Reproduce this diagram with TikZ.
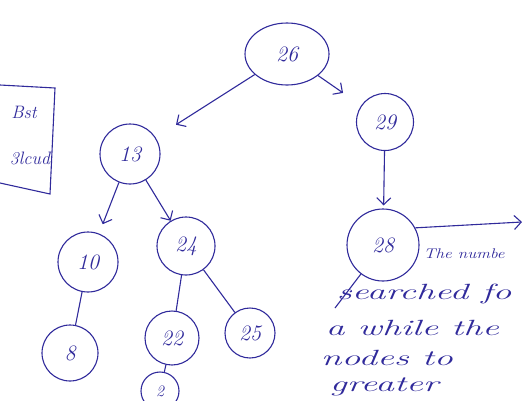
\documentclass[tikz,border=0pt]{standalone}
\usepackage{tikz}
\usetikzlibrary{shapes.geometric, arrows.meta}
\definecolor{ink}{RGB}{48,42,155}

\begin{document}
\begin{tikzpicture}[x=1pt, y=-1pt, ->, >={Straight Barb[length=7pt, width=14pt]}, ink, line width=1.1pt]
        \tikzstyle{vertex} = [circle, draw=ink, inner sep=0pt, font=\itshape\fontsize{22}{22}\selectfont]
        \tikzstyle{note} = [anchor=west, inner sep=0pt, xscale=1.7, font=\itshape\fontsize{22}{22}\selectfont]
        \useasboundingbox (0,0) rectangle (522,400);
        \clip (0,0) rectangle (522,400);
        % the tree
        \node[vertex, ellipse, minimum width=84pt, minimum height=62pt] (26) at (287,54) {26};
        \node[vertex, minimum size=57pt] (29) at (385,122) {29};
        \node[vertex, minimum size=60pt] (13) at (130,154) {13};
        \node[vertex, minimum size=60pt] (10) at (88,262) {10};
        \node[vertex, minimum size=58pt] (24) at (186,246) {24};
        \node[vertex, minimum size=72pt] (28) at (383,245) {28};
        \node[vertex, minimum size=54pt] (22) at (172,338) {22};
        \node[vertex, minimum size=50pt] (25) at (250,333) {25};
        \node[vertex, minimum size=56pt] (8) at (70,353) {8};
        \node[vertex, minimum size=38pt, font=\itshape\fontsize{16}{16}\selectfont] (2) at (160,391) {2};
        \coordinate (end28) at (335,308);
        \coordinate (out28) at (522,222);
        % box on the left
        \draw[-] (0,85) -- (55,88) -- (50,194) -- (0,183);
        \node[font=\itshape\fontsize{18}{18}\selectfont] (bst) at (24,112) {Bst};
        \node[font=\itshape\fontsize{18}{18}\selectfont] (slcud) at (30,158) {3lcud};
        % the text
        \node[note, xscale=0.72, font=\itshape\fontsize{14}{14}\selectfont] (t1) at (423,254) {The numbe};
        \node[note] (t2) at (336,294) {searched fo};
        \node[note] (t3) at (325,328) {a while the};
        \node[note] (t4) at (320,358) {nodes to};
        \node[note] (t5) at (329,387) {greater};
        \path
                (26) edge[shorten >=24pt] (13)
                (26) edge[shorten >=22pt] (29)
                (29) edge[shorten >=3pt] (28)
                (13) edge[shorten >=10pt] (10)
                (13) edge (24)
                (24) edge[-] (22)
                (24) edge[-] (25)
                (10) edge[-] (8)
                (22) edge[-] (2)
                (28) edge[-] (end28)
                (28.28) edge (out28);
\end{tikzpicture}
\end{document}
